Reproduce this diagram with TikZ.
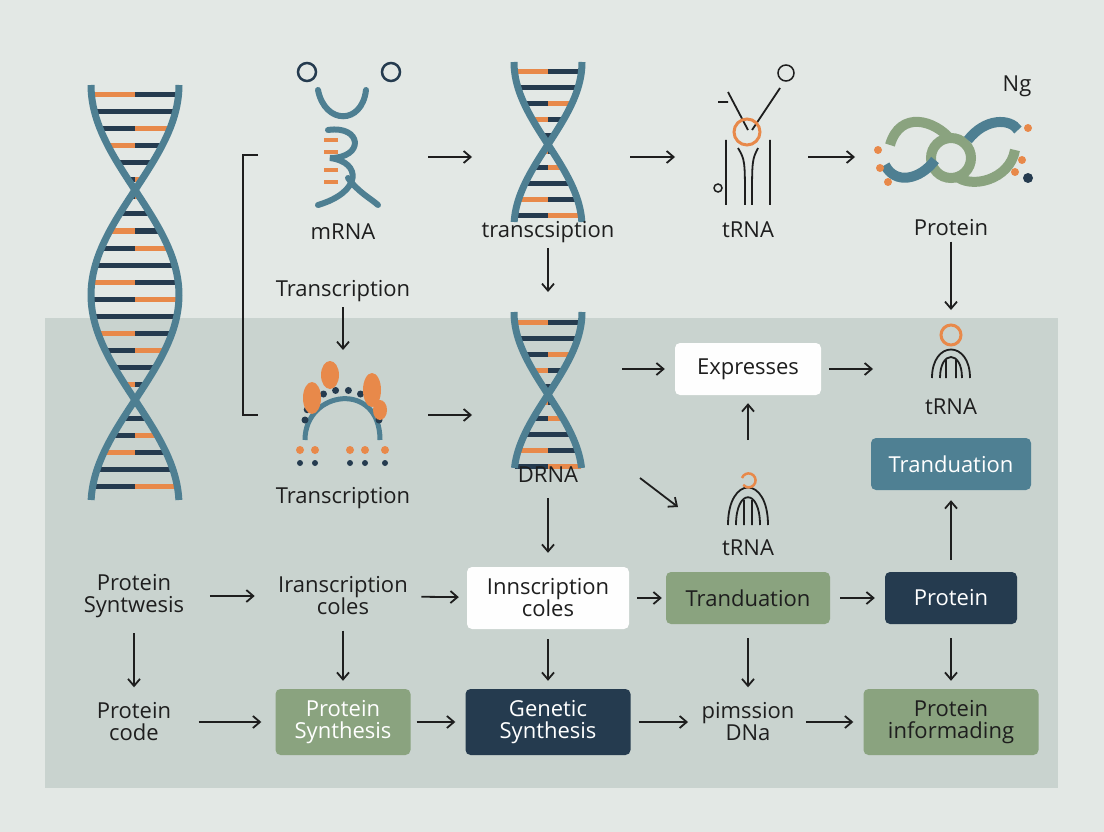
\documentclass[tikz,border=0pt]{standalone}
\usepackage{fontspec}
\setmainfont{Open Sans}
\usetikzlibrary{arrows.meta}
\definecolor{bg}{HTML}{E3E8E5}
\definecolor{panel}{HTML}{C9D3CF}
\definecolor{strand}{HTML}{4E7F92}
\definecolor{dark}{HTML}{253B4F}
\definecolor{org}{HTML}{E8894A}
\definecolor{grn}{HTML}{8AA37F}
\definecolor{teal}{HTML}{4F8093}
\definecolor{txt}{HTML}{1E1E1E}
\newcommand\myhelix[6]{% cx, y0, y1, amp, period, rung step
  \pgfmathtruncatemacro\ya{#2+10}
  \pgfmathtruncatemacro\yb{#2+10+#6}
  \pgfmathsetmacro\fac{360/#5}
  \foreach \y [count=\k] in {\ya,\yb,...,#3} {
    \pgfmathsetmacro\xa{#1+#4*cos((\y-#2)*\fac)}
    \pgfmathsetmacro\xb{#1-#4*cos((\y-#2)*\fac)}
    \pgfmathtruncatemacro\m{mod(\k,3)}
    \ifnum\m=0 \def\ca{org}\def\cb{dark}\else\ifnum\m=1 \def\ca{dark}\def\cb{org}\else\def\ca{dark}\def\cb{dark}\fi\fi
    \draw[line width=5,\ca] (\xa,\y) -- ({(\xa+\xb)/2},\y);
    \draw[line width=5,\cb] ({(\xa+\xb)/2},\y) -- (\xb,\y);
  }
  \draw[strand,line width=7,domain=#2:#3,samples=80,variable=\t] plot ({#1+#4*cos((\t-#2)*\fac)},\t);
  \draw[strand,line width=7,domain=#2:#3,samples=80,variable=\t] plot ({#1-#4*cos((\t-#2)*\fac)},\t);
}
\tikzset{
 lbl/.style={font=\fontsize{22}{26}\selectfont,text=txt,align=center},
 box/.style={lbl,rounded corners=5pt,minimum height=52pt,inner xsep=8pt},
 arr/.style={-{Straight Barb[length=7pt,width=12pt]},line width=1.8,txt},
}
\begin{document}
\begin{tikzpicture}[x=1pt,y=-1pt]
\fill[bg] (0,0) rectangle (1104,832);
\useasboundingbox (0,0) rectangle (1104,832);
\fill[panel] (45,318) rectangle (1058,788);
% helices
\myhelix{135}{85}{500}{44}{420}{17}
\myhelix{548}{62}{222}{34}{330}{16}
\myhelix{548}{312}{468}{34}{330}{16}
% mRNA icon
\draw[dark,line width=2.5] (307,72) circle (9) (391,72) circle (9);
\draw[strand,line width=6,line cap=round] (318,90) .. controls (325,125) and (362,125) .. (366,90);
\draw[strand,line width=6,line cap=round] (328,130) .. controls (362,125) and (365,158) .. (330,158) .. controls (362,162) and (362,192) .. (318,205);
\draw[strand,line width=6,line cap=round] (348,178) .. controls (358,192) and (370,198) .. (378,205);
\foreach \y in {140,152,170,182}{\draw[org,line width=4] (324,\y) -- (338,\y);}
% tRNA icon top
\draw[txt,line width=1.8] (726,140) -- (726,205) (738,148) .. controls (745,160) .. (745,205) (758,148) .. controls (752,160) .. (752,205) (770,140) -- (770,205);
\draw[txt,line width=1.8] (748,130) -- (728,92) (752,130) -- (780,88) (718,102) -- (728,102);
\draw[txt,line width=1.5] (786,73) circle (8) (718,188) circle (4);
\draw[org,line width=3] (747,132) circle (13);
% protein icon
\draw[grn,line width=10] (951,158) circle (20);
\draw[grn,line width=10] (890,145) .. controls (900,110) and (935,120) .. (951,140);
\draw[grn,line width=10] (955,175) .. controls (970,190) and (1010,180) .. (1015,150);
\draw[strand,line width=10] (885,165) .. controls (895,185) and (920,180) .. (935,160);
\draw[strand,line width=10] (968,140) .. controls (985,118) and (1010,118) .. (1018,130);
\foreach \p in {(878,150),(880,168),(888,182),(1022,160),(1015,172),(1028,128)}{\fill[org] \p circle (4);}
\fill[dark] (1028,178) circle (5);
% protein-like icon
\draw[strand,line width=5] (305,440) .. controls (305,390) and (380,380) .. (380,440);
\foreach \a in {0,20,...,180}{\fill[dark] ({342-37*cos(\a)},{420-30*sin(\a)}) circle (3.5);}
\fill[org] (312,398) ellipse (9 and 16) (330,375) ellipse (9 and 14) (372,390) ellipse (9 and 17) (380,410) ellipse (7 and 10);
\foreach \x in {300,315,350,365,385}{\fill[org] (\x,450) circle (4); \fill[dark] (\x,463) circle (3);}
% tRNA icon right
\draw[txt,line width=1.8] (932,378) .. controls (932,340) and (970,340) .. (970,378) (940,378) .. controls (940,350) and (962,350) .. (962,378) (946,378) -- (946,360) (956,378) -- (956,360);
\draw[org,line width=3] (951,335) circle (10);
% tRNA icon mid
\draw[txt,line width=1.8] (728,525) .. controls (728,475) and (768,475) .. (768,525) (736,525) .. controls (736,488) and (760,488) .. (760,525) (744,525) -- (744,500) (752,525) -- (752,500);
\draw[org,line width=2.5] (742,478) arc (200:500:7);
% bracket
\draw[txt,line width=1.8] (258,155) -- (243,155) -- (243,415) -- (258,415);
% labels
\node[lbl] (lmrna) at (343,232) {mRNA};
\node[lbl] (ltr) at (548,232) {transcsiption};
\node[lbl] (ltrna) at (748,230) {tRNA};
\node[lbl] (lprot) at (951,228) {Protein};
\node[lbl] at (1017,86) {Ng};
\node[lbl] (ltrans) at (343,291) {Transcription};
\node[lbl] (ltrans2) at (343,498) {Transcription};
\node[lbl] (ldrna) at (548,475) {DRNA};
\node[box,fill=white!96!bg,minimum width=146pt] (expr) at (748,369) {Expresses};
\node[lbl] (ltrna2) at (951,407) {tRNA};
\node[box,fill=teal,text=white,minimum width=160pt] (tran1) at (951,464) {Tranduation};
\node[lbl] (ltrna3) at (748,548) {tRNA};
\node[lbl] (ps) at (134,596) {Protein\\[-4pt]Syntwesis};
\node[lbl] (ic) at (343,596) {Iranscription\\[-4pt]coles};
\node[box,fill=white!96!bg,minimum width=162pt,minimum height=62pt] (inn) at (548,598) {Innscription\\[-4pt]coles};
\node[box,fill=grn,minimum width=164pt] (tran2) at (748,598) {Tranduation};
\node[box,fill=dark,text=white,minimum width=132pt] (prot) at (951,598) {Protein};
\node[lbl] (pc) at (134,722) {Protein\\[-4pt]code};
\node[box,fill=grn,text=white,minimum width=135pt,minimum height=66pt] (psyn) at (343,722) {Protein\\[-4pt]Synthesis};
\node[box,fill=dark,text=white,minimum width=165pt,minimum height=66pt] (gsyn) at (548,722) {Genetic\\[-4pt]Synthesis};
\node[lbl] (pim) at (748,722) {pimssion\\[-4pt]DNa};
\node[box,fill=grn,minimum width=175pt,minimum height=66pt] (pinf) at (951,722) {Protein\\[-4pt]informading};
% arrow coordinates (icons)
\coordinate (a1) at (428,157); \coordinate (b1) at (472,157);
\coordinate (a2) at (630,157); \coordinate (b2) at (675,157);
\coordinate (a3) at (808,157); \coordinate (b3) at (855,157);
\coordinate (b4) at (548,292);
\coordinate (b5) at (951,310);
\coordinate (b6) at (343,350);
\coordinate (a7) at (428,415); \coordinate (b7) at (472,415);
\coordinate (a8) at (622,369);
\coordinate (b9) at (873,369);
\coordinate (a10) at (748,440);
\coordinate (a11) at (640,478); \coordinate (b11) at (678,507);
\draw[arr] (a1) -- (b1);
\draw[arr] (a2) -- (b2);
\draw[arr] (a3) -- (b3);
\draw[arr,shorten <=2pt] (ltr) -- (b4);
\draw[arr,shorten <=2pt] (lprot) -- (b5);
\draw[arr,shorten <=2pt] (ltrans) -- (b6);
\draw[arr] (a7) -- (b7);
\draw[arr,shorten >=10pt] (a8) -- (expr);
\draw[arr,shorten <=8pt] (expr) -- (b9);
\draw[arr,shorten >=8pt] (a10) -- (expr);
\draw[arr] (a11) -- (b11);
\draw[arr,shorten <=12pt,shorten >=14pt] (ldrna) -- (inn);
\draw[arr,shorten <=12pt,shorten >=10pt] (tran1.south |- prot.north) -- (tran1);
\draw[arr,shorten <=22pt,shorten >=20pt] (ps) -- (ic);
\draw[arr,shorten <=10pt,shorten >=8pt] (ic) -- (inn);
\draw[arr,shorten <=8pt,shorten >=4pt] (inn) -- (tran2);
\draw[arr,shorten <=10pt,shorten >=10pt] (tran2) -- (prot);
\draw[arr,shorten <=12pt,shorten >=12pt] (ps) -- (pc);
\draw[arr,shorten <=12pt,shorten >=8pt] (ic) -- (psyn);
\draw[arr,shorten <=10pt,shorten >=8pt] (inn) -- (gsyn);
\draw[arr,shorten <=14pt,shorten >=12pt] (tran2) -- (pim);
\draw[arr,shorten <=14pt,shorten >=8pt] (prot) -- (pinf);
\draw[arr,shorten <=24pt,shorten >=14pt] (pc) -- (psyn);
\draw[arr,shorten <=6pt,shorten >=10pt] (psyn) -- (gsyn);
\draw[arr,shorten <=8pt,shorten >=10pt] (gsyn) -- (pim);
\draw[arr,shorten <=8pt,shorten >=10pt] (pim) -- (pinf);
\end{tikzpicture}
\end{document}
